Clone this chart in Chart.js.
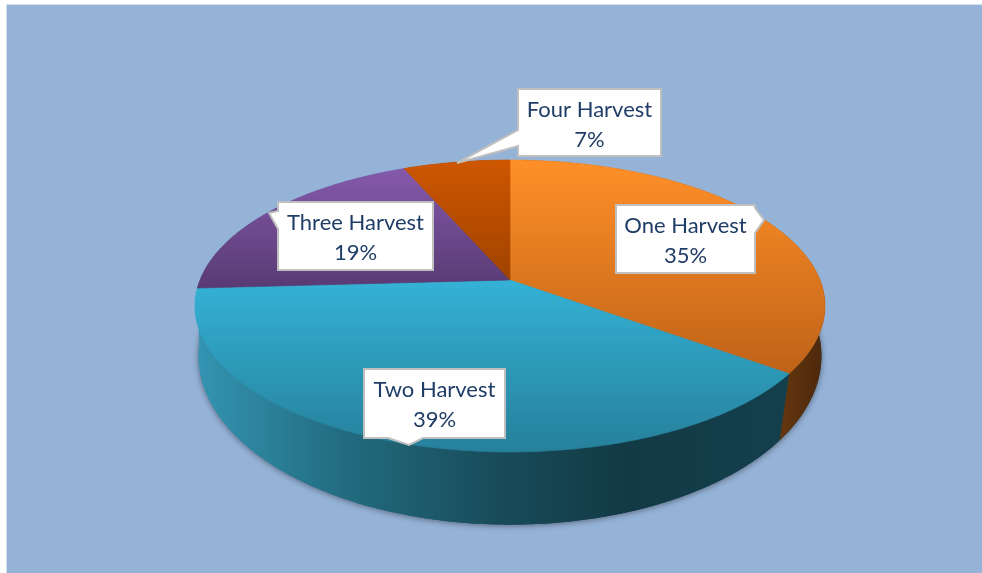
<!DOCTYPE html>
<html>
<head>
<meta charset="utf-8">
<style>html,body{margin:0;padding:0;background:#fff}canvas{display:block}</style>
<script src="https://cdn.jsdelivr.net/npm/chart.js@4"></script>
</head>
<body>
<canvas id="c" width="982" height="573"></canvas>
<script>
const categories = ['One Harvest', 'Two Harvest', 'Three Harvest', 'Four Harvest'];
const shares = [35.1, 39, 19.4, 6.5];
const baseColors = ['#F58A26', '#2FA3C6', '#734F96', '#BF5000'];

const topStops = [['#FF9028', '#BF6218'], ['#34B2D6', '#26809B'], ['#8559AB', '#583A73'], ['#CE5600', '#A04300']];
const wallStops = [
  [[0, '#6B3A10'], [1, '#4F2A0C']],
  [[0, '#3393B0'], [0.24, '#226C80'], [0.5, '#184C5A'], [0.72, '#123A45'], [1, '#143F4D']],
  [[0, '#3393B0'], [1, '#3393B0']],
  [[0, '#6B2C00'], [1, '#6B2C00']]
];
const callouts = [
  {box: [616, 205, 755, 273], tip: [764, 220], side: 'right', base: [208, 233]},
  {box: [364, 369, 505, 438], tip: [409, 445], side: 'bottom', base: [388, 423]},
  {box: [278, 202, 433, 270], tip: [269, 213], side: 'left', base: [211, 229]},
  {box: [518, 89, 661, 156], tip: [457, 163], side: 'left', base: [130, 146]}
];
const persp = {k: 0.178, ratio: 0.456, lowK: 0.13, lowScale: 0.996, lowRatio: 0.535, lowDrop: 54};

function proj(a, th, low) {
  const u = Math.cos(th), v = Math.sin(th), R = a.outerRadius;
  if (low) {
    const w = 1 / (1 - persp.lowK * v);
    return [a.x + R * persp.lowScale * u * w, a.y + persp.lowDrop + R * persp.lowRatio * v * w];
  }
  const w = 1 / (1 - persp.k * v);
  return [a.x + R * u * w, a.y + R * persp.ratio * v * w];
}
function trace(ctx, a, s, e, low, first) {
  const n = Math.max(2, Math.ceil(Math.abs(e - s) * 90));
  for (let i = 0; i <= n; i++) {
    const p = proj(a, s + (e - s) * i / n, low);
    if (i === 0 && first) ctx.moveTo(p[0], p[1]); else ctx.lineTo(p[0], p[1]);
  }
}
function linear(ctx, x0, y0, x1, y1, stops) {
  const g = ctx.createLinearGradient(x0, y0, x1, y1);
  stops.forEach(s => g.addColorStop(s[0], s[1]));
  return g;
}
const pie3d = {
  id: 'pie3d',
  beforeDraw(chart) {
    const ctx = chart.ctx;
    ctx.save();
    ctx.fillStyle = '#fff';
    ctx.fillRect(0, 0, chart.width, chart.height);
    ctx.fillStyle = '#D3E0EF';
    ctx.fillRect(6, 4, chart.width - 6, chart.height - 4);
    ctx.fillStyle = '#95B3D7';
    ctx.fillRect(7, 5, chart.width - 7, chart.height - 5);
    ctx.restore();
  },
  beforeDatasetDraw(chart, args) {
    const ctx = chart.ctx, arcs = args.meta.data;
    const a0 = arcs[0];
    const left = proj(a0, Math.PI, true)[0], right = proj(a0, 0, true)[0];
    // soft shadow under the wall
    ctx.save();
    ctx.shadowColor = 'rgba(30,30,40,0.55)';
    ctx.shadowBlur = 6;
    ctx.shadowOffsetX = 0;
    ctx.shadowOffsetY = 1;
    ctx.fillStyle = linear(ctx, left, 0, right - 30, 0, wallStops[1]);
    ctx.beginPath();
    trace(ctx, a0, 0, Math.PI * 2, true, true);
    ctx.closePath();
    ctx.fill();
    ctx.restore();
    // walls
    arcs.forEach((a, i) => {
      ctx.save();
      const lo = i === 0 ? proj(a, a.endAngle, true)[0] - 10 : left;
      const hi = i === 0 ? right : right - 30;
      ctx.fillStyle = linear(ctx, lo, 0, hi, 0, wallStops[i]);
      ctx.beginPath();
      trace(ctx, a, a.startAngle, a.endAngle, false, true);
      trace(ctx, a, a.endAngle, a.startAngle, true, false);
      ctx.closePath();
      ctx.fill();
      ctx.restore();
    });
    // top surface
    arcs.forEach((a, i) => {
      let yMin = a.y, yMax = a.y;
      for (let t = 0; t <= 60; t++) {
        const p = proj(a, a.startAngle + (a.endAngle - a.startAngle) * t / 60);
        yMin = Math.min(yMin, p[1]); yMax = Math.max(yMax, p[1]);
      }
      const g = linear(ctx, 0, yMin, 0, yMax, [[0, topStops[i][0]], [1, topStops[i][1]]]);
      ctx.save();
      ctx.fillStyle = g;
      ctx.strokeStyle = g;
      ctx.lineWidth = 0.6;
      ctx.beginPath();
      ctx.moveTo(a.x, a.y);
      trace(ctx, a, a.startAngle, a.endAngle, false, false);
      ctx.closePath();
      ctx.fill();
      ctx.stroke();
      ctx.restore();
    });
    return false;
  },
  afterDatasetsDraw(chart) {
    const ctx = chart.ctx;
    const labels = chart.data.labels, vals = chart.data.datasets[0].data;
    callouts.forEach((c, i) => {
      const [x0, y0, x1, y1] = c.box;
      ctx.save();
      ctx.beginPath();
      ctx.moveTo(x0, y0);
      if (c.side === 'right') {
        ctx.lineTo(x1, y0); ctx.lineTo(x1, c.base[0]); ctx.lineTo(c.tip[0], c.tip[1]); ctx.lineTo(x1, c.base[1]);
        ctx.lineTo(x1, y1); ctx.lineTo(x0, y1);
      } else if (c.side === 'bottom') {
        ctx.lineTo(x1, y0); ctx.lineTo(x1, y1); ctx.lineTo(c.base[1], y1); ctx.lineTo(c.tip[0], c.tip[1]);
        ctx.lineTo(c.base[0], y1); ctx.lineTo(x0, y1);
      } else {
        ctx.lineTo(x1, y0); ctx.lineTo(x1, y1); ctx.lineTo(x0, y1);
        ctx.lineTo(x0, c.base[1]); ctx.lineTo(c.tip[0], c.tip[1]); ctx.lineTo(x0, c.base[0]);
      }
      ctx.closePath();
      ctx.fillStyle = '#fff';
      ctx.fill();
      ctx.strokeStyle = '#BFBFBF';
      ctx.lineWidth = 2;
      ctx.lineJoin = 'miter';
      ctx.miterLimit = 2;
      ctx.stroke();
      ctx.fillStyle = '#1F3D66';
      ctx.font = '22px Lato, "Open Sans", sans-serif';
      ctx.textAlign = 'center';
      ctx.textBaseline = 'alphabetic';
      const cx = (x0 + x1) / 2;
      ctx.fillText(labels[i], cx, y0 + 28);
      ctx.fillText(Math.round(vals[i]) + '%', cx, y0 + 58);
      ctx.restore();
    });
  }
};
new Chart(document.getElementById('c'), {
  type: 'pie',
  data: {labels: categories, datasets: [{data: shares, backgroundColor: baseColors, borderWidth: 0}]},
  options: {
    responsive: false,
    animation: false,
    radius: 310,
    layout: {padding: {left: 38, bottom: 13}},
    plugins: {legend: {display: false}, tooltip: {enabled: false}}
  },
  plugins: [pie3d]
});
</script>
</body>
</html>
